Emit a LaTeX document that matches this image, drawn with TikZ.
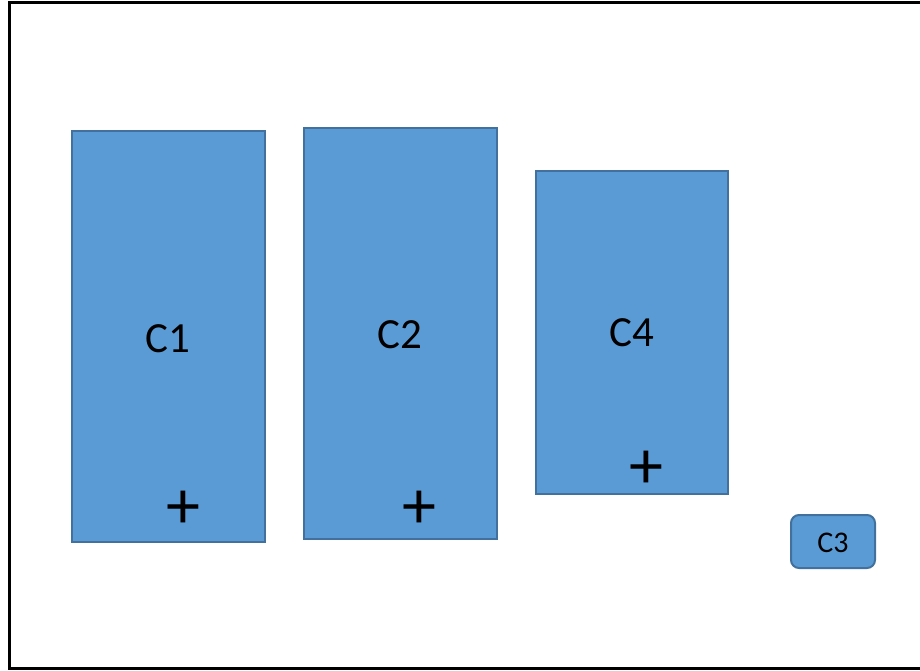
\documentclass[tikz,border=0pt]{standalone}
\usepackage{fontspec}
\setmainfont{Carlito}
\definecolor{boxfill}{HTML}{5B9BD5}
\definecolor{boxline}{HTML}{41719C}
\begin{document}
\begin{tikzpicture}[x=1pt,y=-1pt,
  cbox/.style={draw=boxline,fill=boxfill,line width=2pt,inner sep=0pt,outer sep=0pt,anchor=north west},
  lbl/.style={font=\fontsize{43}{43}\selectfont,inner sep=0pt},
  plus/.style={font=\fontsize{68}{68}\selectfont,inner sep=0pt}]
\useasboundingbox (0,0) rectangle (920,670);
\draw[line width=3pt] (930,2.5) -- (9.5,2.5) -- (9.5,668.5) -- (930,668.5);
\node[cbox,minimum width=193pt,minimum height=411pt] (c1) at (72,131) {};
\node[cbox,minimum width=193pt,minimum height=411pt] (c2) at (304,128) {};
\node[cbox,minimum width=192pt,minimum height=323pt] (c4) at (536,171) {};
\node[cbox,rounded corners=8pt,minimum width=84pt,minimum height=53pt] (c3) at (791,515) {};
\node[lbl] (t1) at (168,339) {C1};
\node[lbl] (t2) at (400,335) {C2};
\node[lbl] (t4) at (632,333) {C4};
\node[font=\fontsize{30}{30}\selectfont,inner sep=0pt] (t3) at (833,543) {C3};
\node[plus] (p1) at (183,510) {+};
\node[plus] (p2) at (419,510) {+};
\node[plus] (p4) at (646,470) {+};
\end{tikzpicture}
\end{document}
